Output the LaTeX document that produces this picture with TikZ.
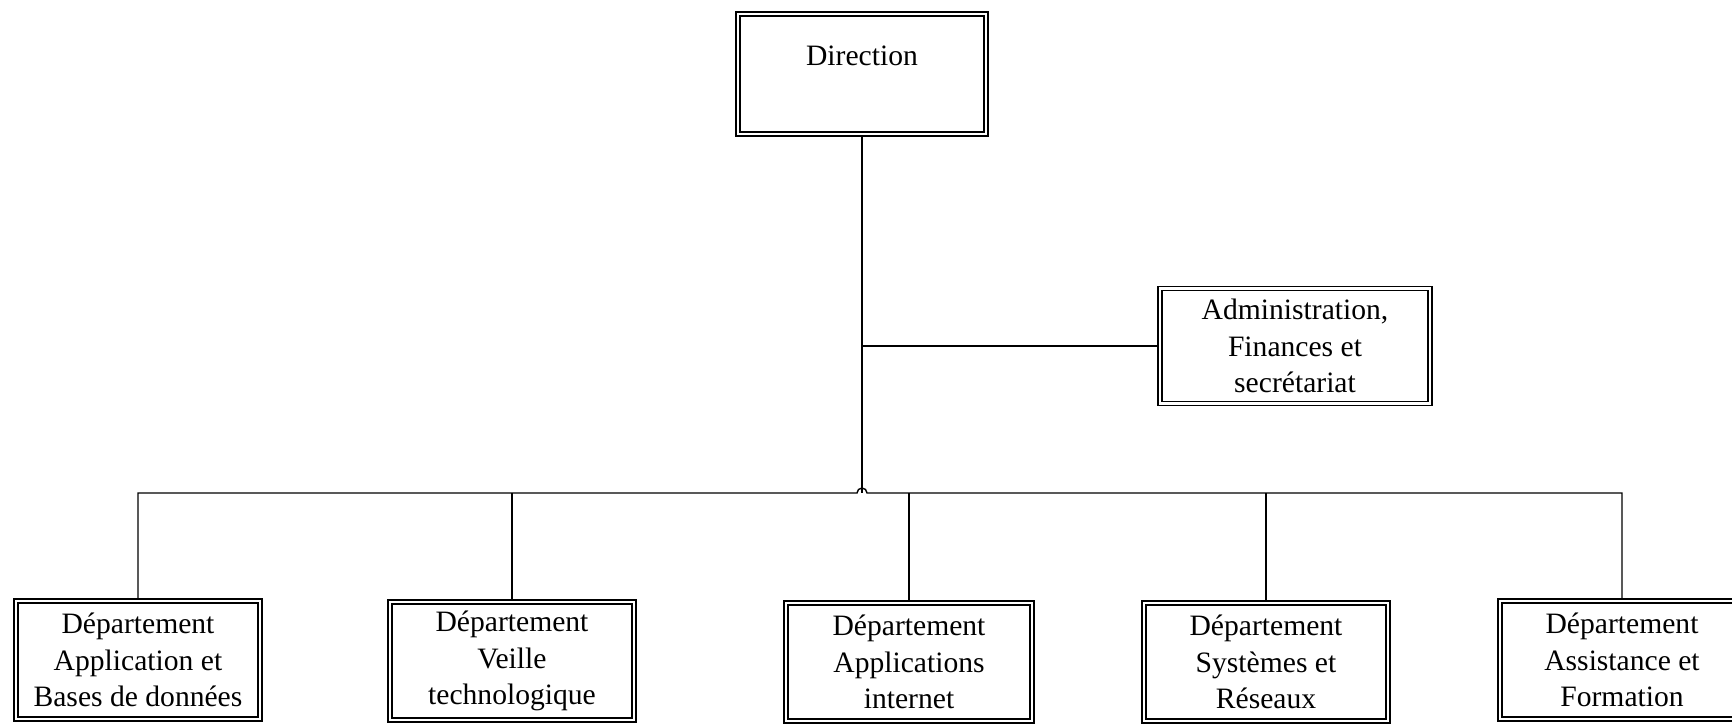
\documentclass[tikz,border=0pt]{standalone}
\usepackage{fontspec}
\setmainfont{Liberation Serif}
\usetikzlibrary{positioning, calc}
\tikzset{
  every picture/.style={font=\fontsize{14.8pt}{18.3pt}\selectfont},
  orgbox/.style={draw, double, line width=0.75pt, double distance=1.4pt, outer sep=1.45pt,
                 align=center, inner sep=0pt, minimum width=#1},
  orgbox/.default=122pt,
  dept/.style={orgbox=122pt, minimum height=59pt},
  link/.style={line width=0.7pt},
}
\begin{document}
\begin{tikzpicture}[x=0.5pt, y=-0.5pt]
  \useasboundingbox (0,0) rectangle (1732,723);
  \clip (0,0) rectangle (1732,723);
  % top of the chart
  \node[orgbox=124pt, minimum height=60pt, text height=10pt, text depth=19pt] (dir) at (862,74) {Direction};
  \node[orgbox=135pt, minimum height=57.5pt] (adm) at (1295,346) {Administration,\\Finances et\\secrétariat};
  % departments
  \node[dept] (dab) at (138,660) {Département\\Application et\\Bases de données};
  \node[dept] (dvt) at (512,661) {Département\\Veille\\technologique};
  \node[dept, minimum width=123pt] (dai) at (909,662) {Département\\Applications\\internet};
  \node[dept] (dsr) at (1266,662) {Département\\Systèmes et\\Réseaux};
  \node[dept] (daf) at (1622,660) {Département\\Assistance et\\Formation};
  \coordinate (bus) at (862,493);
  % links
  \draw[link] (dir.south) -- (bus);
  \draw[link] (dir.south |- adm.west) -- (adm.west);
  \draw[link] (dab.north) -- (dab.north |- bus) -- ($(bus)+(-5,0)$)
    arc[start angle=180, end angle=0, radius=2.5pt] -- (daf.north |- bus) -- (daf.north);
  \foreach \d in {dvt, dai, dsr}
    \draw[link] (\d.north |- bus) -- (\d.north);
\end{tikzpicture}
\end{document}
